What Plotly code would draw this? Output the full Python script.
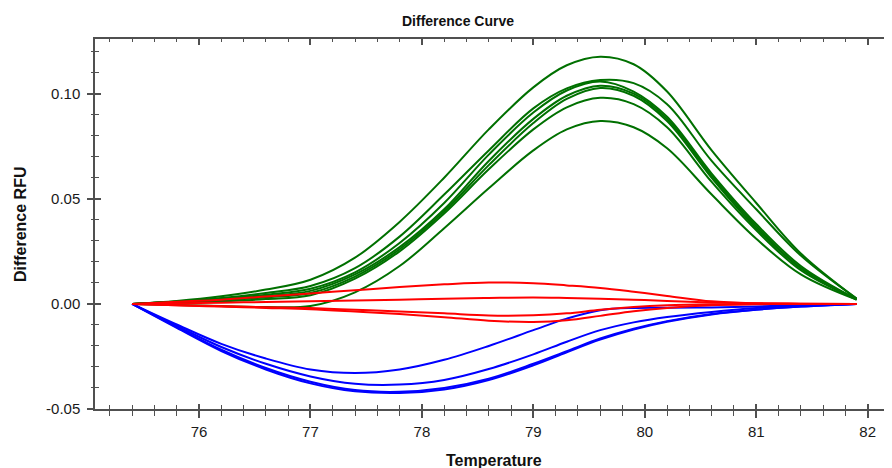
import numpy as np
import plotly.graph_objects as go

# ---------------- data ----------------
temperature = [75.4, 75.8, 76.2, 76.6, 77.0, 77.4, 77.8, 78.2, 78.6, 79.0,
               79.3, 79.6, 79.9, 80.2, 80.6, 81.0, 81.4, 81.9]

green_1 = [0, 0.0014, 0.0036, 0.0068, 0.0115, 0.022, 0.039, 0.060, 0.083, 0.103,
           0.1135, 0.1176, 0.114, 0.101, 0.073, 0.048, 0.024, 0.0025]
green_2 = [0, 0.0011, 0.0028, 0.0052, 0.0085, 0.017, 0.032, 0.052, 0.073, 0.093,
           0.1025, 0.1065, 0.105, 0.095, 0.068, 0.045, 0.023, 0.0025]
green_3 = [0, 0.0010, 0.0024, 0.0044, 0.0072, 0.015, 0.029, 0.048, 0.071, 0.091,
           0.1015, 0.1058, 0.101, 0.089, 0.062, 0.038, 0.018, 0.0022]
green_4 = [0, 0.0009, 0.0021, 0.0038, 0.0062, 0.014, 0.027, 0.045, 0.068, 0.088,
           0.0990, 0.1038, 0.100, 0.088, 0.061, 0.037, 0.017, 0.0022]
green_5 = [0, 0.0008, 0.0017, 0.0031, 0.0052, 0.013, 0.026, 0.044, 0.066, 0.086,
           0.0975, 0.1027, 0.099, 0.087, 0.060, 0.036, 0.017, 0.0021]
green_6 = [0, 0.0006, 0.0012, 0.0023, 0.0041, 0.012, 0.025, 0.043, 0.064, 0.083,
           0.0935, 0.0980, 0.095, 0.084, 0.058, 0.035, 0.016, 0.0021]
green_7 = [0, -0.0005, -0.0010, -0.0015, -0.0010, 0.0055, 0.018, 0.036, 0.055, 0.073,
           0.0830, 0.0870, 0.084, 0.074, 0.052, 0.031, 0.014, 0.0020]

red_1 = [0, 0.0010, 0.0020, 0.0035, 0.0050, 0.0065, 0.0080, 0.0093, 0.0102, 0.0098,
         0.0088, 0.0076, 0.0058, 0.0038, 0.0012, 0.0003, 0.0001, 0]
red_2 = [0, 0.0003, 0.0006, 0.0009, 0.0012, 0.0016, 0.0020, 0.0025, 0.0028, 0.0030,
         0.0028, 0.0025, 0.0020, 0.0014, 0.0007, 0.0003, 0.0001, 0]
red_3 = [0, -0.0006, -0.0011, -0.0016, -0.0020, -0.0028, -0.0036, -0.0045, -0.0055, -0.0054,
         -0.0045, -0.0028, -0.0015, -0.0007, -0.0002, 0, 0, 0]
red_4 = [0, -0.0007, -0.0013, -0.0019, -0.0025, -0.0036, -0.0048, -0.0063, -0.0080, -0.0086,
         -0.0078, -0.0057, -0.0035, -0.0019, -0.0006, -0.0002, 0, 0]

blue_1 = [0, -0.0098, -0.0190, -0.0260, -0.0312, -0.0329, -0.0312, -0.0266, -0.0200, -0.0125,
          -0.0070, -0.0030, -0.0019, -0.0018, -0.0017, -0.0012, -0.0006, 0]
blue_2 = [0, -0.0105, -0.0205, -0.0285, -0.0345, -0.0380, -0.0384, -0.0362, -0.0310, -0.0240,
          -0.0180, -0.0125, -0.0088, -0.0062, -0.0038, -0.0020, -0.0009, 0]
blue_3 = [0, -0.0110, -0.0218, -0.0305, -0.0370, -0.0410, -0.0418, -0.0400, -0.0356, -0.0285,
          -0.0225, -0.0165, -0.0118, -0.0082, -0.0048, -0.0027, -0.0012, 0]
blue_4 = [0, -0.0114, -0.0224, -0.0312, -0.0378, -0.0416, -0.0424, -0.0407, -0.0362, -0.0292,
          -0.0230, -0.0170, -0.0122, -0.0085, -0.0050, -0.0028, -0.0013, 0]

x_range = [75.067, 82.218]
y_range = [-0.05, 0.126]
y_major = [-0.05, 0.00, 0.05, 0.10]
y_major_text = ["-0.05", "0.00", "0.05", "0.10"]

GREEN = "#007000"
RED = "#ff0000"
BLUE = "#0000ff"
AXIS = "#505050"

fig = go.Figure()
series = [(green_1, GREEN), (green_2, GREEN), (green_3, GREEN), (green_4, GREEN),
          (green_5, GREEN), (green_6, GREEN), (green_7, GREEN),
          (blue_1, BLUE), (blue_2, BLUE), (blue_3, BLUE), (blue_4, BLUE),
          (red_1, RED), (red_2, RED), (red_3, RED), (red_4, RED)]
for ys, col in series:
    fig.add_trace(go.Scatter(x=temperature, y=ys, mode="lines",
                             line=dict(color=col, width=2, shape="spline", smoothing=1.0),
                             showlegend=False, hoverinfo="skip"))

# dummy traces so overlay axes are drawn
fig.add_trace(go.Scatter(x=[None], y=[None], xaxis="x2", yaxis="y2", showlegend=False))
fig.add_trace(go.Scatter(x=[None], y=[None], xaxis="x3", yaxis="y3", showlegend=False))

y_minor = [v for v in np.round(np.arange(-0.05, 0.1261, 0.01), 3) if round(v * 100) % 5 != 0]

font_tick = dict(family="Liberation Sans, Arial, sans-serif", size=15, color="#1a1a1a")

# page body has an 8px margin: figure is 884x460 placed at (8, 8)
W, H = 884, 460

fig.update_layout(
    width=W, height=H,
    margin=dict(l=87, r=0, t=31, b=59),
    paper_bgcolor="white", plot_bgcolor="white",
    title=dict(text="<b>Difference Curve</b>", x=450 / W, xref="container", xanchor="center",
               y=1 - 13 / H, yref="container", yanchor="middle",
               font=dict(family="Liberation Sans, Arial, sans-serif", size=14, color="#111")),
    xaxis=dict(range=x_range, showgrid=False, zeroline=False, showline=True, linecolor=AXIS,
               linewidth=1.5, ticks="outside", ticklen=7, tickwidth=1.5, tickcolor=AXIS,
               tick0=0, dtick=1, tickfont=font_tick, ticklabelstandoff=1,
               minor=dict(ticks="outside", ticklen=5, tickwidth=1.2, tickcolor=AXIS,
                          tick0=0, dtick=0.2, showgrid=False)),
    xaxis2=dict(range=x_range, overlaying="x", anchor="y", side="bottom", showgrid=False,
                zeroline=False, showline=False, ticks="inside", ticklen=5, tickwidth=1.5,
                tickcolor=AXIS, tick0=0, dtick=1, showticklabels=False,
                minor=dict(ticks="inside", ticklen=4, tickwidth=1.2, tickcolor=AXIS,
                           tick0=0, dtick=0.2, showgrid=False)),
    xaxis3=dict(range=x_range, overlaying="x", anchor="y", side="top", showgrid=False,
                zeroline=False, showline=True, linecolor=AXIS, linewidth=1.5,
                ticks="inside", ticklen=6, tickwidth=1.5, tickcolor=AXIS, tick0=0, dtick=1,
                showticklabels=False,
                minor=dict(ticks="inside", ticklen=3, tickwidth=1.2, tickcolor=AXIS,
                           tick0=0, dtick=0.2, showgrid=False)),
    yaxis=dict(range=y_range, showgrid=False, zeroline=False, showline=True, linecolor=AXIS,
               linewidth=1.5, ticks="outside", ticklen=6, tickwidth=1.5, tickcolor=AXIS,
               tickmode="array", tickvals=y_major, ticktext=y_major_text,
               tickfont=font_tick, ticklabelstandoff=4,
               minor=dict(ticks="outside", ticklen=2, tickwidth=1.2, tickcolor=AXIS,
                          tickmode="array", tickvals=y_minor, showgrid=False)),
    yaxis2=dict(range=y_range, overlaying="y", anchor="x", side="left", showgrid=False,
                zeroline=False, showline=False, ticks="inside", ticklen=6, tickwidth=1.5,
                tickcolor=AXIS, tickmode="array", tickvals=y_major, showticklabels=False,
                minor=dict(ticks="inside", ticklen=4, tickwidth=1.2, tickcolor=AXIS,
                           tickmode="array", tickvals=y_minor, showgrid=False)),
    yaxis3=dict(range=y_range, overlaying="y", anchor="x", side="right", showgrid=False,
                zeroline=False, showline=False, ticks="inside", ticklen=5, tickwidth=1.5,
                tickcolor=AXIS, tickmode="array", tickvals=y_major, showticklabels=False,
                minor=dict(ticks="inside", ticklen=3, tickwidth=1.2, tickcolor=AXIS,
                           tickmode="array", tickvals=y_minor, showgrid=False)),
    annotations=[
        dict(text="<b>Temperature</b>", xref="paper", yref="paper", x=0.5, y=-0.1388,
             xanchor="center", yanchor="middle", showarrow=False,
             font=dict(family="Liberation Sans, Arial, sans-serif", size=16, color="#111")),
        dict(text="<b>Difference RFU</b>", xref="paper", yref="paper", x=-0.094, y=0.5,
             xanchor="center", yanchor="middle", showarrow=False, textangle=-90,
             font=dict(family="Liberation Sans, Arial, sans-serif", size=16, color="#111")),
    ],
)

fig.write_html("out.html")
